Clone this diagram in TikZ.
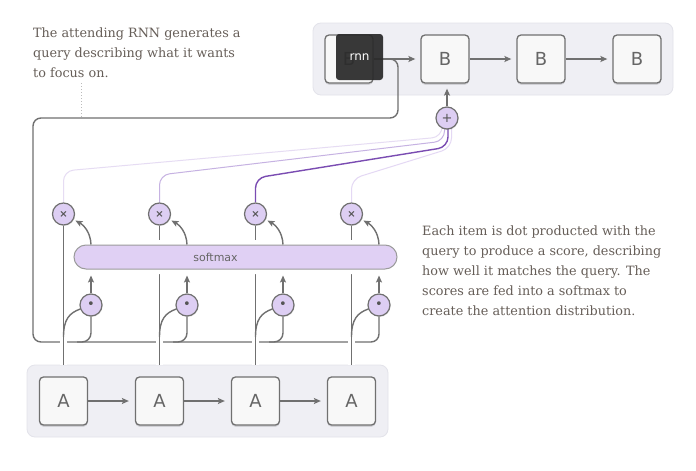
\documentclass[tikz,border=0pt]{standalone}
\usepackage{fontspec}
\setmainfont{DejaVu Serif}
\setsansfont{DejaVu Sans}
\usetikzlibrary{arrows.meta,shadows,calc}
\pgfdeclarelayer{panels}
\pgfdeclarelayer{lines}
\pgfsetlayers{panels,lines,main}
\definecolor{lnc}{HTML}{707070}
\definecolor{boxfill}{HTML}{F8F8F8}
\definecolor{panelfill}{HTML}{EFEFF4}
\definecolor{paneledge}{HTML}{E3E3EA}
\definecolor{lav}{HTML}{DDCEF3}
\definecolor{smfill}{HTML}{E0D0F4}
\definecolor{txtc}{HTML}{665E58}
\definecolor{lblc}{HTML}{666666}
\definecolor{symc}{HTML}{555555}
\definecolor{purA}{HTML}{E6DCF3}
\definecolor{purB}{HTML}{C6B2E2}
\definecolor{purC}{HTML}{7A4CB2}
\definecolor{purD}{HTML}{E4D8F4}
\definecolor{dotc}{HTML}{BBBBBB}
\definecolor{rnnc}{HTML}{2A2A2A}
\begin{document}
\begin{tikzpicture}[x=1pt,y=-1pt,
  panel/.style={rectangle, rounded corners=8pt, draw=paneledge, fill=panelfill, line width=0.8pt, inner sep=0pt},
  box/.style={rectangle, rounded corners=4pt, minimum size=48pt, inner sep=0pt, draw=lnc, line width=1.3pt, fill=boxfill,
     font=\sffamily\fontsize{18}{18}\selectfont, text=lblc,
     drop shadow={shadow xshift=0pt, shadow yshift=-1.8pt, fill=black, opacity=0.12}},
  circ/.style={circle, minimum size=22pt, inner sep=0pt, draw=lnc, line width=1.2pt, fill=lav, text=symc,
     drop shadow={shadow xshift=0.6pt, shadow yshift=-1pt, fill=black, opacity=0.12}},
  smx/.style={rectangle, rounded corners=12pt, minimum width=323pt, minimum height=24pt, inner sep=0pt,
     draw=lnc!70, line width=1pt, fill=smfill, preaction={draw=white, line width=10pt}},
  rnnbox/.style={rectangle, rounded corners=3pt, minimum width=47pt, minimum height=46pt, inner sep=0pt,
     fill=rnnc, fill opacity=0.93, text opacity=1, text=white, font=\sffamily\fontsize{12}{12}\selectfont},
  conn/.style={draw=lnc, line width=1.4pt},
  halo/.style={preaction={draw=white, line width=7pt}},
  arr/.style={conn, -{Stealth[length=7pt,width=6pt,inset=1.5pt]}},
  txt/.style={inner sep=0pt, text=txtc, font=\fontsize{12.8}{20}\selectfont, anchor=base west},
  pl/.style={line width=1pt, rounded corners=10pt}
]
\useasboundingbox (0,0) rectangle (696,471);

% panels
\begin{pgfonlayer}{panels}
\fill[white] (0,0) rectangle (696,471);
\node[panel, minimum width=360pt, minimum height=72pt] (pB) at (493,59) {};
\node[panel, minimum width=361pt, minimum height=72pt] (pA) at (207.5,401) {};
\end{pgfonlayer}

% boxes
\foreach \i/\x in {1/349,2/445,3/541,4/637} \node[box] (B\i) at (\x,59) {B};
\foreach \i/\x in {1/63.5,2/159.5,3/255.5,4/351.5} \node[box] (A\i) at (\x,401) {A};

% circles
\foreach \i/\x in {1/63.5,2/159.5,3/255.5,4/351.5} {
  \node[circ, font=\sffamily\bfseries\fontsize{10}{10}\selectfont] (m\i) at (\x,214) {×};
  \node[circ, font=\sffamily\fontsize{13}{13}\selectfont] (d\i) at (\x+27.5,305) {•};
}
\node[circ, font=\sffamily\fontsize{13}{13}\selectfont] (plus) at (447,118) {+};

% rnn overlay
\node[rnnbox] (rnn) at (359.5,57) {rnn};

% softmax
\node[smx] (sm) at (235.5,257) {};
\node[inner sep=0pt, font=\sffamily\fontsize{11}{11}\selectfont, text=lblc] (smlabel) at (215.5,257) {softmax};

% coordinates of the query path
\coordinate (qa) at (398,59);
\coordinate (qb) at (398,118);
\coordinate (qc) at (33,118);
\coordinate (qd) at (33,342);

\begin{pgfonlayer}{lines}
  % recurrent arrows
  \draw[arr, shorten >=5pt] (B1.east) -- (B2.west);
  \draw[arr, shorten >=5pt] (B2.east) -- (B3.west);
  \draw[arr, shorten >=5pt] (B3.east) -- (B4.west);
  \draw[arr, shorten >=6pt] (A1.east) -- (A2.west);
  \draw[arr, shorten >=6pt] (A2.east) -- (A3.west);
  \draw[arr, shorten >=6pt] (A3.east) -- (A4.west);
  % query path
  \draw[conn, rounded corners=8pt] (B1.east) -- (qa) -- (qb) -- (qc) -- (qd) -- (d4.south |- qd) -- (d4.south);
  \foreach \i in {1,2,3}
    \draw[conn, rounded corners=9pt] (d\i.south) |- ($(d\i.south |- qd)+(-14,0)$);
  % annotation dotted line
  \coordinate (ann) at (81,83);
  \draw[dotc, line width=1pt, dotted] (ann) -- (ann |- qc);
  % item verticals
  \foreach \i in {1,2,3,4}
    \draw[conn, halo] (A\i.north |- pA.north) -- (m\i.south);
  % item to dot branches
  \foreach \i/\x in {1/63.5,2/159.5,3/255.5,4/351.5}
    \draw[conn] (\x,337) .. controls (\x,319) and (\x+6,313) .. (d\i);
  % dot to softmax
  \foreach \i in {1,2,3,4}
    \draw[arr, shorten >=6pt] (d\i.north) -- (d\i.north |- sm.south);
  % weighted items to sum
  \draw[pl, draw=purA] (m1.north) -- (63.5,171) -- (442,137) -- ([xshift=-5pt]plus.center);
  \draw[pl, draw=purB] (m2.north) -- (159.5,175) -- (444.5,141) -- ([xshift=-2.5pt]plus.center);
  \draw[pl, draw=purD] (m4.north) -- (351.5,179) -- (451.5,148) -- ([xshift=4.5pt]plus.center);
  \draw[pl, draw=purC, line width=1.4pt] (m3.north) -- (255.5,178) -- (448,147) -- ([xshift=1pt]plus.center);
  % sum to B2
  \draw[arr, shorten >=5pt] (plus.north) -- (plus.north |- B2.south);
\end{pgfonlayer}

% softmax to multiply
\foreach \i/\x in {1/63.5,2/159.5,3/255.5,4/351.5}
  \draw[arr, shorten >=2pt] (d\i.center |- sm.north) .. controls (\x+27,232) and (\x+20,225) .. (m\i);

% texts
\node[txt] (ta) at (33,37) {The attending RNN generates a};
\node[txt] (tb) at (33,57) {query describing what it wants};
\node[txt] (tc) at (33,77) {to focus on.};
\node[txt] (ua) at (422,235) {Each item is dot producted with the};
\node[txt] (ub) at (422,255) {query to produce a score, describing};
\node[txt] (uc) at (422,275) {how well it matches the query. The};
\node[txt] (ud) at (422,295) {scores are fed into a softmax to};
\node[txt] (ue) at (422,315) {create the attention distribution.};
\end{tikzpicture}
\end{document}
